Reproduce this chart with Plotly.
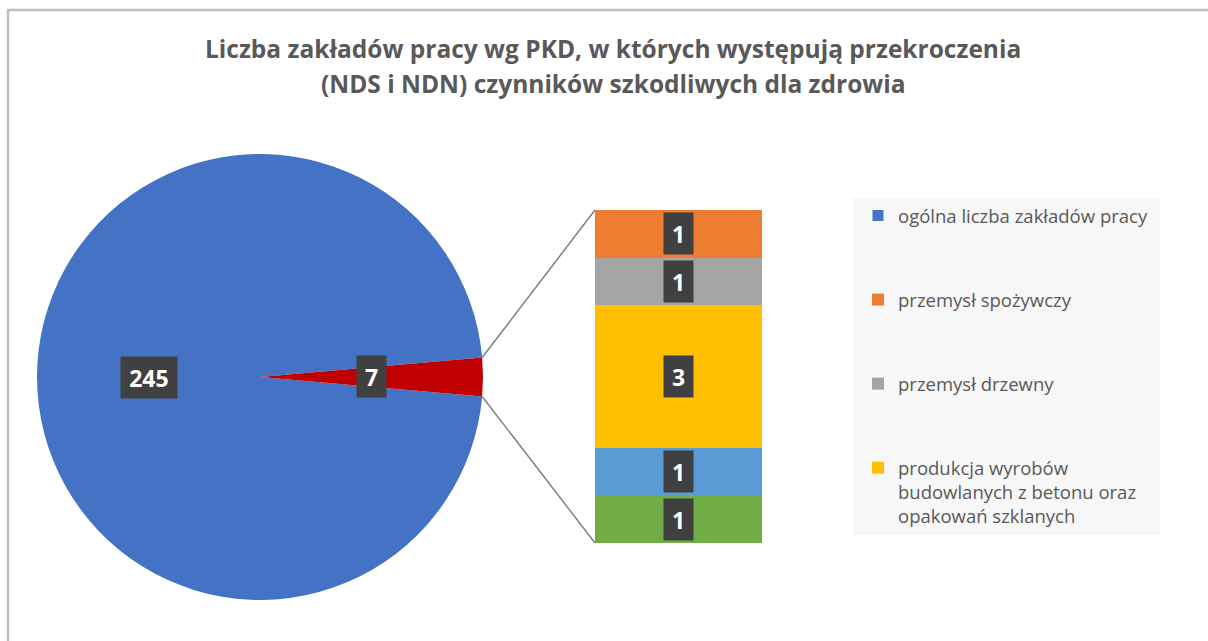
import math
import plotly.graph_objects as go

W, H = 1208, 641

# ---------------- data ----------------
pie_labels = ["ogólna liczba zakładów pracy", "pozostałe"]
pie_values = [245, 7]
pie_colors = ["#4472C4", "#C00000"]

bar_labels = [
    "przemysł spożywczy",
    "przemysł drzewny",
    "produkcja wyrobów<br>budowlanych z betonu oraz<br>opakowań szklanych",
    "kategoria 5",
    "kategoria 6",
]
bar_values = [1, 1, 3, 1, 1]
bar_colors = ["#ED7D31", "#A5A5A5", "#FFC000", "#5B9BD5", "#70AD47"]
bar_in_legend = [True, True, True, False, False]

title_lines = ["Liczba zakładów pracy wg PKD, w których występują przekroczenia",
               "(NDS i NDN) czynników szkodliwych dla zdrowia"]

# ---------------- layout geometry (pixels) ----------------
PIE_CX, PIE_CY, PIE_R = 260, 377, 223
BAR_X0, BAR_X1, BAR_Y0, BAR_Y1 = 595, 762, 210, 543
TITLE_X, TITLE_Y0, TITLE_DY = 613, 48, 36

FONT = "Open Sans"
TXT = "#595959"
LBL_BG = "#404040"
LBL_PAD = 6
DIGIT_W = 13.3


def px(x):
    return x / W


def py(y):
    return 1 - y / H


def label_box(v):
    return dict(text=f"<b>{v}</b>", showarrow=False,
                font=dict(family=FONT, size=23, color="white"),
                bgcolor=LBL_BG, borderpad=LBL_PAD,
                width=len(str(v)) * DIGIT_W + 4, height=29,
                xanchor="center", yanchor="middle", align="center")


fig = go.Figure()

total = sum(pie_values)
other_frac = pie_values[1] / total
rotation = 90 + 180 * other_frac

fig.add_trace(go.Pie(
    labels=pie_labels, values=pie_values, sort=False, direction="clockwise",
    rotation=rotation,
    marker=dict(colors=pie_colors, line=dict(width=0)),
    textinfo="none", showlegend=False,
    domain=dict(x=[px(PIE_CX - PIE_R), px(PIE_CX + PIE_R)],
                y=[py(PIE_CY + PIE_R), py(PIE_CY - PIE_R)]),
    hoverinfo="label+value",
))

# legend entry for the main pie slice
fig.add_trace(go.Scatter(
    x=[None], y=[None], mode="markers", name=pie_labels[0],
    marker=dict(symbol="square", size=11, color=pie_colors[0]),
    legendgroup="g0", legendrank=1, xaxis="x", yaxis="y",
))

for i, (lab, val, col, inleg) in enumerate(zip(bar_labels, bar_values, bar_colors, bar_in_legend)):
    fig.add_trace(go.Bar(
        x=[0], y=[val], name=lab, marker=dict(color=col, line=dict(width=0)),
        width=1, showlegend=inleg, legendgroup=f"g{i+1}", legendrank=i + 2,
        xaxis="x", yaxis="y",
    ))

annotations = []
start = rotation
mids = []
for v in pie_values:
    span = 360 * v / total
    mids.append(start + span / 2)
    start += span
for v, a in zip(pie_values, mids):
    ar = math.radians(a)
    lx = PIE_CX + 0.5 * PIE_R * math.sin(ar)
    ly = PIE_CY - 0.5 * PIE_R * math.cos(ar)
    annotations.append(dict(x=px(lx), y=py(ly), xref="paper", yref="paper", **label_box(v)))

cum = 0
for v in bar_values:
    annotations.append(dict(x=0, y=cum + v / 2, xref="x", yref="y", **label_box(v)))
    cum += v

for k, line in enumerate(title_lines):
    annotations.append(dict(
        x=px(TITLE_X), y=py(TITLE_Y0 + k * TITLE_DY), xref="paper", yref="paper",
        text=f"<b>{line}</b>", showarrow=False,
        font=dict(family=FONT, size=24.5, color=TXT),
        xanchor="center", yanchor="middle", align="center",
    ))

# connector lines from the small slice to the bar
half = math.radians(180 * other_frac)
p_top = (PIE_CX + PIE_R * math.cos(half), PIE_CY - PIE_R * math.sin(half))
p_bot = (PIE_CX + PIE_R * math.cos(half), PIE_CY + PIE_R * math.sin(half))
shapes = [
    dict(type="rect", xref="paper", yref="paper", x0=px(8), x1=px(W + 10),
         y0=py(H + 10), y1=py(10), line=dict(color="#BFBFBF", width=2.5),
         fillcolor="rgba(0,0,0,0)", layer="below"),
    dict(type="rect", xref="paper", yref="paper", x0=px(853), x1=px(1160),
         y0=py(535), y1=py(198), line=dict(width=0), fillcolor="#F7F7F7",
         layer="below"),
    dict(type="line", xref="paper", yref="paper", x0=px(p_top[0]), y0=py(p_top[1]),
         x1=px(BAR_X0), y1=py(BAR_Y0), line=dict(color="#7F7F7F", width=1.5)),
    dict(type="line", xref="paper", yref="paper", x0=px(p_bot[0]), y0=py(p_bot[1]),
         x1=px(BAR_X0), y1=py(BAR_Y1), line=dict(color="#7F7F7F", width=1.5)),
]

fig.update_layout(
    width=W, height=H, margin=dict(l=0, r=0, t=0, b=0),
    paper_bgcolor="white", plot_bgcolor="rgba(0,0,0,0)",
    barmode="stack", bargap=0,
    xaxis=dict(domain=[px(BAR_X0), px(BAR_X1)], range=[-0.5, 0.5], visible=False, fixedrange=True),
    yaxis=dict(domain=[py(BAR_Y1), py(BAR_Y0)], range=[sum(bar_values), 0], visible=False, fixedrange=True),
    showlegend=True,
    legend=dict(x=px(858), y=py(197), xanchor="left", yanchor="top",
                bgcolor="rgba(0,0,0,0)", traceorder="grouped", tracegroupgap=57,
                valign="top", font=dict(family=FONT, size=18.5, color=TXT),
                itemclick=False, itemdoubleclick=False),
    annotations=annotations, shapes=shapes,
    font=dict(family=FONT),
)

fig.write_html("out.html", config=dict(displayModeBar=False),
               post_script="document.body.style.margin='0';document.body.style.overflow='hidden';")
